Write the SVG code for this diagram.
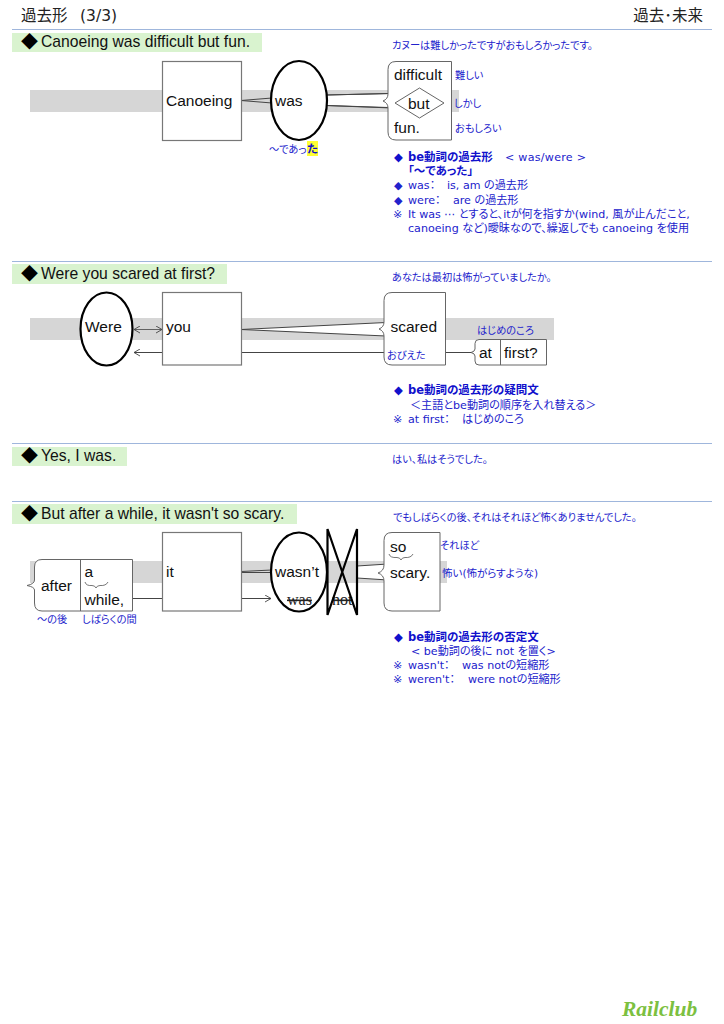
<svg xmlns="http://www.w3.org/2000/svg" width="724" height="1024" viewBox="0 0 724 1024">
<style>
text{font-family:"Liberation Sans","Noto Sans CJK JP",sans-serif;fill:#111}
.h{font-family:"DejaVu Sans","Noto Sans CJK JP",sans-serif;font-size:15.500px;fill:#222}
.s{font-size:15.700px;fill:#111}
.d{font-family:"Noto Sans CJK JP",sans-serif;font-size:17px;fill:#000}
.n{font-size:15.500px}
.j{font-family:"DejaVu Sans","Noto Sans CJK JP",sans-serif;font-size:10.200px;fill:#2222cc;font-feature-settings:"palt"}
.t{font-size:11.100px}
.jb{font-weight:700;fill:#1111cc;font-size:11.500px}
.rule{stroke:#9fb6dc;stroke-width:1;fill:none}
.bar{fill:#d9f3cf}
.band{fill:#d6d6d6}
.box{fill:#fff;stroke:#777;stroke-width:1.2}
.bub{fill:#fff;stroke:#666;stroke-width:1}
.ov{fill:#fff;stroke:#000;stroke-width:2.2}
.ln{stroke:#444;stroke-width:1;fill:none}
.wedge{fill:#fff;stroke:#444;stroke-width:1}
.thin{stroke:#444;stroke-width:.8;fill:none}
.br{stroke:#555;stroke-width:.8;fill:none}
.old{font-family:"Liberation Serif",serif;font-size:16px;fill:#222;text-decoration:line-through}
</style>
<defs>
<marker id="a" markerWidth="8" markerHeight="8" refX="7" refY="4" orient="auto-start-reverse" markerUnits="userSpaceOnUse"><path d="M1 .5L7 4L1 7.500" fill="none" stroke="#444" stroke-width=".9"/></marker>
</defs>
<g id="header">
<text class="h" x="21" y="21">過去形<tspan x="80">(3/3)</tspan></text>
<text class="h" x="703" y="21" text-anchor="end">過去･未来</text>
</g>
<g id="rules">
<path class="rule" d="M12 29.500H712M12 261.500H712M12 443.500H712M12 501.500H712"/>
</g>
<g id="bands">
<rect class="band" x="30" y="90" width="429" height="22"/>
<rect class="band" x="30" y="318" width="524" height="22"/>
<rect class="band" x="30" y="561" width="417" height="22"/>
</g>
<g id="sentences">
<rect class="bar" x="12" y="33" width="250" height="19"/>
<text class="d" x="21" y="48">◆</text><text class="s" x="41" y="47">Canoeing was difficult but fun.</text>
<rect class="bar" x="12" y="264" width="215" height="20"/>
<text class="d" x="21" y="280">◆</text><text class="s" x="41" y="279">Were you scared at first?</text>
<rect class="bar" x="12" y="447" width="115" height="19"/>
<text class="d" x="21" y="462">◆</text><text class="s" x="41" y="461">Yes, I was.</text>
<rect class="bar" x="12" y="504" width="285" height="20"/>
<text class="d" x="21" y="520">◆</text><text class="s" x="41" y="519">But after a while, it wasn't so scary.</text>
</g>
<g id="connectors">
<path class="wedge" d="M241 100.500L272 98M241 100.500L272 103"/>
<path class="wedge" d="M326 95L392 93.500L388 101L392 108L326 105.500Z" stroke="none"/>
<path class="ln" d="M327 95L388 93.500M327 105.500L388 107.500"/>
<path class="wedge" d="M241 329.500L386 322.500L382 329L386 336Z"/>
<path class="ln" d="M241 352.500H384M445 352.500H474"/>
<path class="thin" d="M134 329.500H162" marker-start="url(#a)" marker-end="url(#a)"/>
<path class="ln" d="M162 352.500H134" marker-end="url(#a)"/>
<path class="ln" d="M241 571.500L272 570M241 572.500L272 572.500"/>
<path class="wedge" d="M357 566L388 564L384 572L388 580L357 578Z"/>
<path class="ln" d="M132 598.500H162M241 598.500H271" marker-end="url(#a)"/>
</g>
<g id="n-canoeing"><rect class="box" x="162.500" y="61.500" width="79" height="79"/><text class="n" x="166" y="106">Canoeing</text></g>
<g id="n-was"><ellipse class="ov" cx="299" cy="100.500" rx="28" ry="39.500"/><text class="n" x="275" y="106">was</text><text class="j" x="269" y="153">～であっ</text><rect x="307" y="141" width="11" height="15" fill="#ffff33"/><text class="j jb" x="307" y="153">た</text></g>
<g id="n-difficult">
<path class="bub" d="M396 61.500H451.500V140H396Q388 140 388 132V108Q388 103 383 101Q388 99 388 94V69.500Q388 61.500 396 61.500Z"/>
<path class="bub" d="M395 103L419.500 88L444 103L419.500 118Z"/>
<text class="n" x="394" y="80">difficult</text><text class="n" x="408" y="109">but</text><text class="n" x="394" y="133">fun.</text>
<text class="j" x="455" y="79">難しい</text><text class="j" x="454" y="107">しかし</text><text class="j" x="455" y="132">おもしろい</text>
</g>
<g id="note-1">
<text class="j" x="392" y="49">カヌーは難しかったですがおもしろかったです。</text>
<text class="j jb" x="394" y="161">◆</text><text class="j jb" x="408" y="161">be動詞の過去形</text><text class="j t" x="505" y="161" textLength="81">&lt; was/were &gt;</text>
<text class="j jb" x="408" y="175">「～であった」</text>
<text class="j t" x="394" y="189">◆</text><text class="j t" x="408" y="189">was：<tspan x="447">is, am の過去形</tspan></text>
<text class="j t" x="394" y="204">◆</text><text class="j t" x="408" y="204">were：<tspan x="453">are の過去形</tspan></text>
<text class="j t" x="393" y="218">※</text><text class="j t" x="408" y="218">It was ⋯ とすると、itが何を指すか(wind, 風が止んだこと,</text>
<text class="j t" x="408" y="232">canoeing など)曖昧なので、繰返しでも canoeing を使用</text>
</g>
<g id="n-were"><ellipse class="ov" cx="106.500" cy="329" rx="26" ry="36.500"/><text class="n" x="85" y="332">Were</text></g>
<g id="n-you"><rect class="box" x="162.500" y="292.500" width="79" height="72.500"/><text class="n" x="166" y="332">you</text></g>
<g id="n-scared">
<path class="bub" d="M392 292.500H445.500V365H392Q384 365 384 357V336Q384 331 379 329Q384 327 384 322V300.500Q384 292.500 392 292.500Z"/>
<text class="n" x="390.500" y="332">scared</text><text class="j" x="387" y="359">おびえた</text>
</g>
<g id="n-atfirst">
<path class="bub" d="M479 339.500H546.500V365H479Q475 365 475 361V356Q475 353.500 471 352.500Q475 351.500 475 349V343.500Q475 339.500 479 339.500Z"/>
<path class="bub" d="M500.500 339.500V365"/>
<text class="n" x="479" y="358">at</text><text class="n" x="504" y="358">first?</text>
<text class="j" x="477" y="334">はじめのころ</text>
</g>
<g id="note-2">
<text class="j" x="392" y="281">あなたは最初は怖がっていましたか。</text>
<text class="j jb" x="394" y="394">◆</text><text class="j jb" x="408" y="394">be動詞の過去形の疑問文</text>
<text class="j t" x="410" y="409">＜主語とbe動詞の順序を入れ替える＞</text>
<text class="j t" x="393" y="423">※</text><text class="j t" x="408" y="423">at first：<tspan x="462">はじめのころ</tspan></text>
</g>
<g id="note-3"><text class="j" x="392" y="463">はい、私はそうでした。</text></g>
<g id="n-after">
<path class="bub" d="M42 559.500H132.500V611H42Q34.500 611 34.500 603V590Q34.500 587 27 585.500Q34.500 584 34.500 580V567Q34.500 559.500 42 559.500Z"/>
<path class="bub" d="M80.500 559.500V611"/>
<path class="br" d="M85 582Q86 586 92 585.500Q95 585.500 96 588Q97 585.500 100 585.500Q106 586 108 582"/>
<text class="n" x="41" y="591">after</text><text class="n" x="84.500" y="577">a</text><text class="n" x="84.500" y="605">while,</text>
<text class="j" x="37" y="623">～の後</text><text class="j" x="82" y="623">しばらくの間</text>
</g>
<g id="n-it"><rect class="box" x="162.500" y="532.500" width="79" height="78.500"/><text class="n" x="166" y="577">it</text></g>
<g id="n-wasnt"><ellipse class="ov" cx="299" cy="572" rx="28" ry="39.500"/><text class="n" x="275" y="577">wasn’t</text><text class="old" x="287" y="605">was</text></g>
<g id="n-not"><text class="old" x="332" y="605">not</text><path d="M327.500 529V615L357 529V615Z" fill="none" stroke="#000" stroke-width="2.200"/></g>
<g id="n-so">
<path class="bub" d="M392 532.500H440V611H392Q384 611 384 603V581Q384 575 378 573Q384 571 384 565V540.500Q384 532.500 392 532.500Z"/>
<path class="br" d="M389 554Q390 558 397 557.500Q400 557.500 401 560Q402 557.500 405 557.500Q411 558 413 554"/>
<text class="n" x="390" y="552">so</text><text class="n" x="390" y="578">scary.</text>
<text class="j" x="440" y="549">それほど</text><text class="j" x="442" y="577" style="font-size:10.500px">怖い(怖がらすような)</text>
</g>
<g id="note-4">
<text class="j" x="393" y="521">でもしばらくの後、それはそれほど怖くありませんでした。</text>
<text class="j jb" x="394" y="641">◆</text><text class="j jb" x="408" y="641">be動詞の過去形の否定文</text>
<text class="j t" x="411" y="655">&lt; be動詞の後に not を置く&gt;</text>
<text class="j t" x="393" y="669">※</text><text class="j t" x="408" y="669">wasn't：<tspan x="462">was notの短縮形</tspan></text>
<text class="j t" x="393" y="683">※</text><text class="j t" x="408" y="683">weren't：<tspan x="468">were notの短縮形</tspan></text>
</g>
<g id="logo"><text x="622" y="1016" style="font-family:'Liberation Serif',serif;font-style:italic;font-weight:700;font-size:21.500px;fill:#7cc040">Railclub</text></g>
</svg>
